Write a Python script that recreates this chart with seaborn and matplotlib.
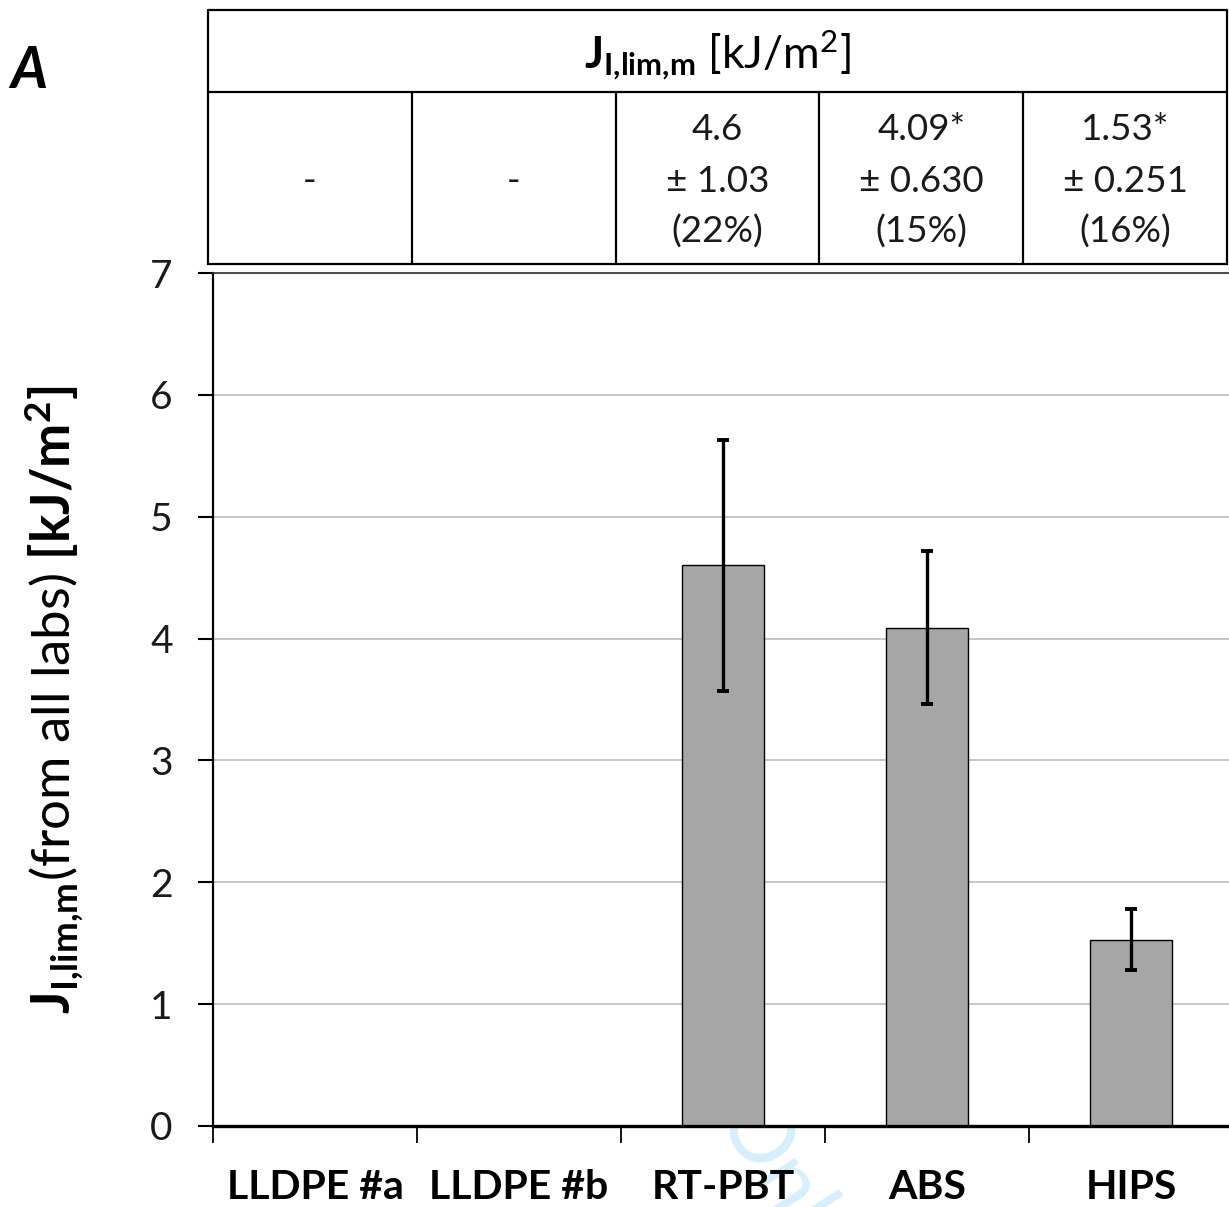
import numpy as np
import pandas as pd
import matplotlib
matplotlib.use("Agg")
import matplotlib.pyplot as plt
import seaborn as sns

categories = ["LLDPE #a", "LLDPE #b", "RT-PBT", "ABS", "HIPS"]
means = [np.nan, np.nan, 4.6, 4.09, 1.53]
errors = [np.nan, np.nan, 1.03, 0.630, 0.251]
table_line1 = ["", "", "4.6", "4.09*", "1.53*"]
table_line2 = ["-", "-", "\u00b1 1.03", "\u00b1 0.630", "\u00b1 0.251"]
table_line3 = ["", "", "(22%)", "(15%)", "(16%)"]
yticks = [0, 1, 2, 3, 4, 5, 6, 7]

sns.set_theme(style="white")
plt.rcParams["font.family"] = ["Lato", "DejaVu Sans"]
plt.rcParams["mathtext.fontset"] = "custom"
plt.rcParams["mathtext.rm"] = "Lato"
plt.rcParams["mathtext.bf"] = "Lato:bold"
plt.rcParams["mathtext.it"] = "Lato:italic"

W, H = 1229, 1207
fig = plt.figure(figsize=(W / 100, H / 100), dpi=100)

# faint watermark fragment (behind the plot area)
fig.text(770 / W, 1 - 1085 / H, "Only", fontsize=64, color="#d6effb", rotation=-58,
         fontweight="normal", ha="left", va="top", rotation_mode="anchor", zorder=-1)

# ---- bar chart axes ----
left_px, right_px, y0_px, y7_px = 213, 1233, 1126, 273
ax = fig.add_axes([left_px / W, (H - y0_px) / H, (right_px - left_px) / W, (y0_px - y7_px) / H])
ax.set_zorder(1)
df = pd.DataFrame({"cat": categories, "val": means})
sns.barplot(data=df, x="cat", y="val", order=categories, color="#a6a6a6",
            edgecolor="black", linewidth=1.0, width=0.4, saturation=1, ax=ax, errorbar=None)
xs = np.arange(len(categories))
ax.errorbar(xs, means, yerr=errors, fmt="none", ecolor="black", elinewidth=2.4,
            capsize=4.5, capthick=2.8, zorder=5)

ax.set_xlim(-0.5, len(categories) - 0.5)
ax.set_ylim(0, 7)
ax.set_yticks(yticks)
ax.set_yticklabels([str(t) for t in yticks], fontsize=28, color="#1a1a1a")
ax.yaxis.grid(True, color="#c6c6c6", linewidth=1.4)
ax.set_axisbelow(True)
ax.tick_params(axis="y", which="major", direction="out", length=11, width=1.5,
               color="black", left=True, pad=18)
ax.set_xticks(xs)
ax.set_xticklabels(categories, fontsize=29.5, fontweight="bold", color="black")
ax.tick_params(axis="x", which="major", length=0, pad=31)
ax.set_xticks(np.arange(-0.5, len(categories), 1.0), minor=True)
ax.tick_params(axis="x", which="minor", direction="out", length=12, width=1.3,
               color="black", bottom=True)
ax.set_xlabel("")
ax.set_ylabel(r"$\mathbf{J}_{\mathbf{I{,}lim{,}m}}$(from all labs) $\mathbf{[kJ/m^2]}$",
              fontsize=38, color="black", labelpad=46)
ax.spines["right"].set_visible(False)
ax.spines["left"].set_color("black")
ax.spines["left"].set_linewidth(1.6)
ax.spines["bottom"].set_color("black")
ax.spines["bottom"].set_linewidth(2.4)
ax.spines["top"].set_color("#303030")
ax.spines["top"].set_linewidth(1.2)

# ---- table on top ----
t_left, t_right, t_top, t_mid, t_bot = 208, 1227, 10, 92, 264
tax = fig.add_axes([t_left / W, (H - t_bot) / H, (t_right - t_left) / W, (t_bot - t_top) / H])
tax.set_zorder(1)
tax.set_xlim(0, len(categories))
tax.set_ylim(t_bot - t_top, 0)
tax.axis("off")
lw = 1.6
hh = t_mid - t_top
th = t_bot - t_top
tax.plot([0, 5, 5, 0, 0], [0, 0, th, th, 0], color="black", lw=lw, clip_on=False, solid_joinstyle="miter")
tax.plot([0, 5], [hh, hh], color="black", lw=lw, clip_on=False)
for i in range(1, len(categories)):
    tax.plot([i, i], [hh, th], color="black", lw=lw, clip_on=False)
tax.text(2.5, hh / 2 + 4, r"$\mathbf{J}_{\mathbf{I{,}lim{,}m}}$ [kJ/m$^2$]", ha="center", va="center",
         fontsize=32, color="black")
for i in range(len(categories)):
    cx = i + 0.5
    if table_line1[i]:
        tax.text(cx, 129 - t_top, table_line1[i], ha="center", va="center", fontsize=26.5, color="#1a1a1a")
        tax.text(cx, 181 - t_top, table_line2[i], ha="center", va="center", fontsize=26.5, color="#1a1a1a")
        tax.text(cx, 232 - t_top, table_line3[i], ha="center", va="center", fontsize=26.5, color="#1a1a1a")
    else:
        tax.text(cx, 181 - t_top, table_line2[i], ha="center", va="center", fontsize=26.5, color="#1a1a1a")

# panel label
fig.text(10 / W, 1 - 72 / H, "A", fontsize=41, fontweight="bold", fontstyle="italic",
         ha="left", va="center", color="black")

fig.savefig("out.png", dpi=100)
